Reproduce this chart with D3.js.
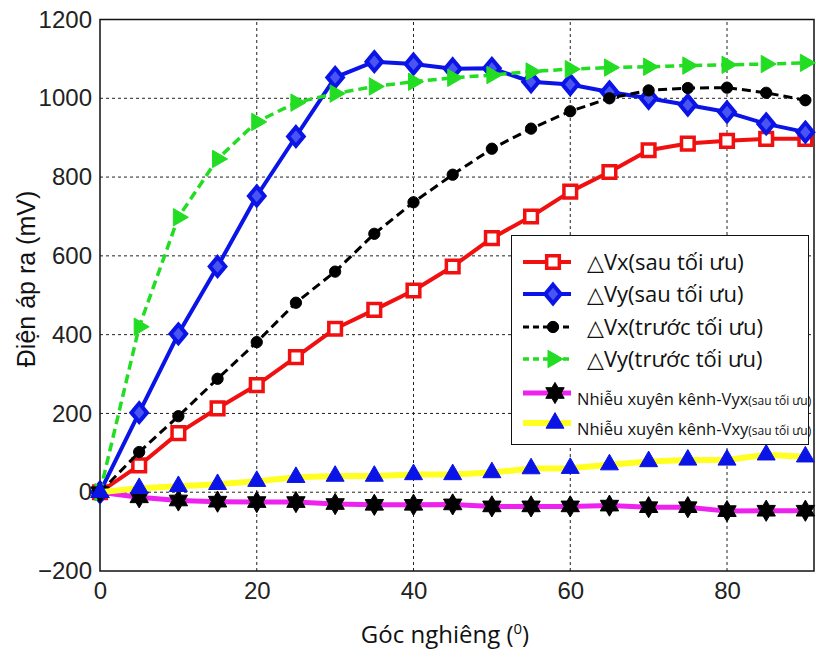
<!DOCTYPE html>
<html>
<head>
<meta charset="utf-8">
<script src="https://cdn.jsdelivr.net/npm/d3@7"></script>
<style>
  body { margin: 0; background: #fff; }
  .tick text { font-family: "Liberation Sans", Arial, sans-serif; font-size: 24px; fill: #222; }
</style>
</head>
<body>
<div id="chart"></div>
<script>
// data
const angles = [0, 5, 10, 15, 20, 25, 30, 35, 40, 45, 50, 55, 60, 65, 70, 75, 80, 85, 90];
const vxSau   = [0, 68, 150, 213, 272, 343, 415, 463, 512, 573, 645, 700, 763, 813, 868, 885, 892, 897, 897];
const vySau   = [0, 202, 402, 573, 752, 903, 1053, 1093, 1087, 1075, 1076, 1042, 1035, 1016, 1000, 983, 965, 935, 914];
const vxTruoc = [0, 102, 193, 288, 381, 481, 560, 656, 736, 806, 872, 923, 967, 1000, 1020, 1026, 1027, 1014, 995];
const vyTruoc = [0, 420, 698, 846, 940, 989, 1012, 1030, 1042, 1052, 1059, 1068, 1074, 1078, 1080, 1083, 1085, 1087, 1090];
const nhieuVyx = [0, -13, -21, -24, -25, -25, -30, -32, -32, -31, -36, -36, -36, -34, -38, -38, -48, -47, -47];
const nhieuVxy = [0, 10, 15, 20, 28, 38, 41, 41, 45, 45, 50, 60, 61, 70, 78, 82, 82, 95, 90];

const xTicks = [0, 20, 40, 60, 80];
const yTicks = [-200, 0, 200, 400, 600, 800, 1000, 1200];

const width = 816, height = 661;
const svg = d3.select("#chart").append("svg")
    .attr("width", width)
    .attr("height", height);

const x = d3.scaleLinear().domain([0, 91.1]).range([100, 814]);
const y = d3.scaleLinear().domain([-200, 1200]).range([571, 19.5]);

// grid
svg.append("g").selectAll("line")
    .data(xTicks.filter(d => d > 0))
    .enter().append("line")
    .attr("x1", d => x(d)).attr("x2", d => x(d))
    .attr("y1", y(-200)).attr("y2", y(1200))
    .attr("stroke", "#222").attr("stroke-width", 1).attr("stroke-dasharray", "3,3");
svg.append("g").selectAll("line")
    .data(yTicks.filter(d => d > -200 && d < 1200))
    .enter().append("line")
    .attr("x1", x(0)).attr("x2", x(91.1))
    .attr("y1", d => y(d)).attr("y2", d => y(d))
    .attr("stroke", "#222").attr("stroke-width", 1).attr("stroke-dasharray", "3,3");

// axes
svg.append("g")
    .attr("transform", `translate(${x(0)},0)`)
    .call(d3.axisLeft(y).tickValues(yTicks).tickFormat(d3.format("d")).tickSize(0).tickPadding(8))
    .call(g => g.select(".domain").remove());
svg.append("g")
    .attr("transform", `translate(0,${y(-200)})`)
    .call(d3.axisBottom(x).tickValues(xTicks).tickFormat(d3.format("d")).tickSize(0).tickPadding(11))
    .call(g => g.select(".domain").remove());

svg.append("rect")
    .attr("x", x(0)).attr("y", y(1200))
    .attr("width", x(91.1) - x(0)).attr("height", y(-200) - y(1200))
    .attr("fill", "none").attr("stroke", "#111").attr("stroke-width", 1.5);

// six-point star for the crosstalk series
const hexagram = {
  draw(ctx, size) {
    const r = Math.sqrt(size) * 0.75, ri = r * 0.58;
    for (let i = 0; i < 12; i++) {
      const a = -Math.PI / 2 + i * Math.PI / 6;
      const rr = i % 2 === 0 ? r : ri;
      if (i === 0) ctx.moveTo(rr * Math.cos(a), rr * Math.sin(a));
      else ctx.lineTo(rr * Math.cos(a), rr * Math.sin(a));
    }
    ctx.closePath();
  }
};
// matlab-like diamond, only slightly taller than wide
const diamond = {
  draw(ctx, size) {
    const w = Math.sqrt(size) * 0.55, h = w * 1.2;
    ctx.moveTo(0, -h); ctx.lineTo(w, 0); ctx.lineTo(0, h); ctx.lineTo(-w, 0); ctx.closePath();
  }
};

const series = [
  { name: "Vx(sau tối ưu)", values: vxSau, color: "#f01010", width: 4, dash: null,
    symbol: d3.symbolSquare, size: 160, fill: "#fff", stroke: "#f01010", sw: 3.5, rot: 0 },
  { name: "Vy(sau tối ưu)", values: vySau, color: "#0a14e6", width: 4, dash: null,
    symbol: diamond, size: 200, fill: "#4a54f0", stroke: "#0a14e6", sw: 4, rot: 0 },
  { name: "Vx(trước tối ưu)", values: vxTruoc, color: "#000", width: 3, dash: "9,5",
    symbol: d3.symbolCircle, size: 100, fill: "#000", stroke: "#000", sw: 1, rot: 0 },
  { name: "Vy(trước tối ưu)", values: vyTruoc, color: "#22dd22", width: 3.5, dash: "9,5",
    symbol: d3.symbolTriangle, size: 130, fill: "#22dd22", stroke: "#22dd22", sw: 1, rot: 90 },
  { name: "Nhiễu xuyên kênh-Vyx", values: nhieuVyx, color: "#ee22ee", width: 5, dash: null,
    symbol: hexagram, size: 200, fill: "#000", stroke: "#000", sw: 1, rot: 0 },
  { name: "Nhiễu xuyên kênh-Vxy", values: nhieuVxy, color: "#ffff22", width: 6, dash: null,
    symbol: d3.symbolTriangle, size: 140, fill: "#0a14e6", stroke: "#0a14e6", sw: 1, rot: 0 }
];

const line = d3.line().x((d, i) => x(angles[i])).y(d => y(d));

series.forEach(s => {
  const g = svg.append("g");
  g.append("path")
      .attr("d", line(s.values))
      .attr("fill", "none")
      .attr("stroke", s.color)
      .attr("stroke-width", s.width)
      .attr("stroke-dasharray", s.dash)
      .attr("stroke-linejoin", "round");
  g.selectAll("path.m")
      .data(s.values)
      .enter().append("path")
      .attr("class", "m")
      .attr("d", d3.symbol().type(s.symbol).size(s.size))
      .attr("transform", (d, i) => `translate(${x(angles[i])},${y(d)}) rotate(${s.rot})`)
      .attr("fill", s.fill)
      .attr("stroke", s.stroke)
      .attr("stroke-width", s.sw);
});

// legend
const legend = svg.append("g");
legend.append("rect")
    .attr("x", 511.5).attr("y", 235.5).attr("width", 297).attr("height", 209)
    .attr("fill", "#fff").attr("stroke", "#111").attr("stroke-width", 1);

const rowsY = [262, 294, 327, 359, 393, 423];
series.forEach((s, i) => {
  const ry = rowsY[i];
  legend.append("line")
      .attr("x1", 523).attr("x2", 571).attr("y1", ry).attr("y2", ry)
      .attr("stroke", s.color).attr("stroke-width", s.width)
      .attr("stroke-dasharray", s.dash ? "6,4" : null);
  legend.append("path")
      .attr("d", d3.symbol().type(s.symbol).size(s.size))
      .attr("transform", `translate(${i >= 4 ? 555 : 553},${ry}) rotate(${s.rot})`)
      .attr("fill", s.fill).attr("stroke", s.stroke).attr("stroke-width", s.sw);
  if (i < 4) {
    const t = legend.append("text")
        .attr("x", 587).attr("y", ry + 8)
        .attr("font-family", "'Open Sans', sans-serif")
        .attr("font-size", 22).attr("fill", "#111");
    t.append("tspan").attr("font-family", "DejaVu Sans").attr("font-size", 22).text("△");
    t.append("tspan").text(s.name);
  } else {
    const t = legend.append("text")
        .attr("x", 577).attr("y", ry + 12)
        .attr("font-family", "'Open Sans', sans-serif")
        .attr("font-size", 16.5).attr("fill", "#111");
    t.append("tspan").text(s.name);
    t.append("tspan").attr("font-size", 12).text("(sau tối ưu)");
  }
});

// axis titles
svg.append("text")
    .attr("transform", "translate(35,279) rotate(-90)")
    .attr("text-anchor", "middle")
    .attr("font-family", "'Liberation Sans', Arial, sans-serif")
    .attr("font-size", 25).attr("fill", "#111")
    .text("Điện áp ra (mV)");

const xl = svg.append("text")
    .attr("x", 445).attr("y", 643)
    .attr("text-anchor", "middle")
    .attr("font-family", "'Open Sans', sans-serif")
    .attr("font-size", 24).attr("fill", "#111");
xl.append("tspan").text("Góc nghiêng (");
xl.append("tspan").attr("font-size", 15).attr("dy", -9).text("0");
xl.append("tspan").attr("dy", 9).text(")");
</script>
</body>
</html>
